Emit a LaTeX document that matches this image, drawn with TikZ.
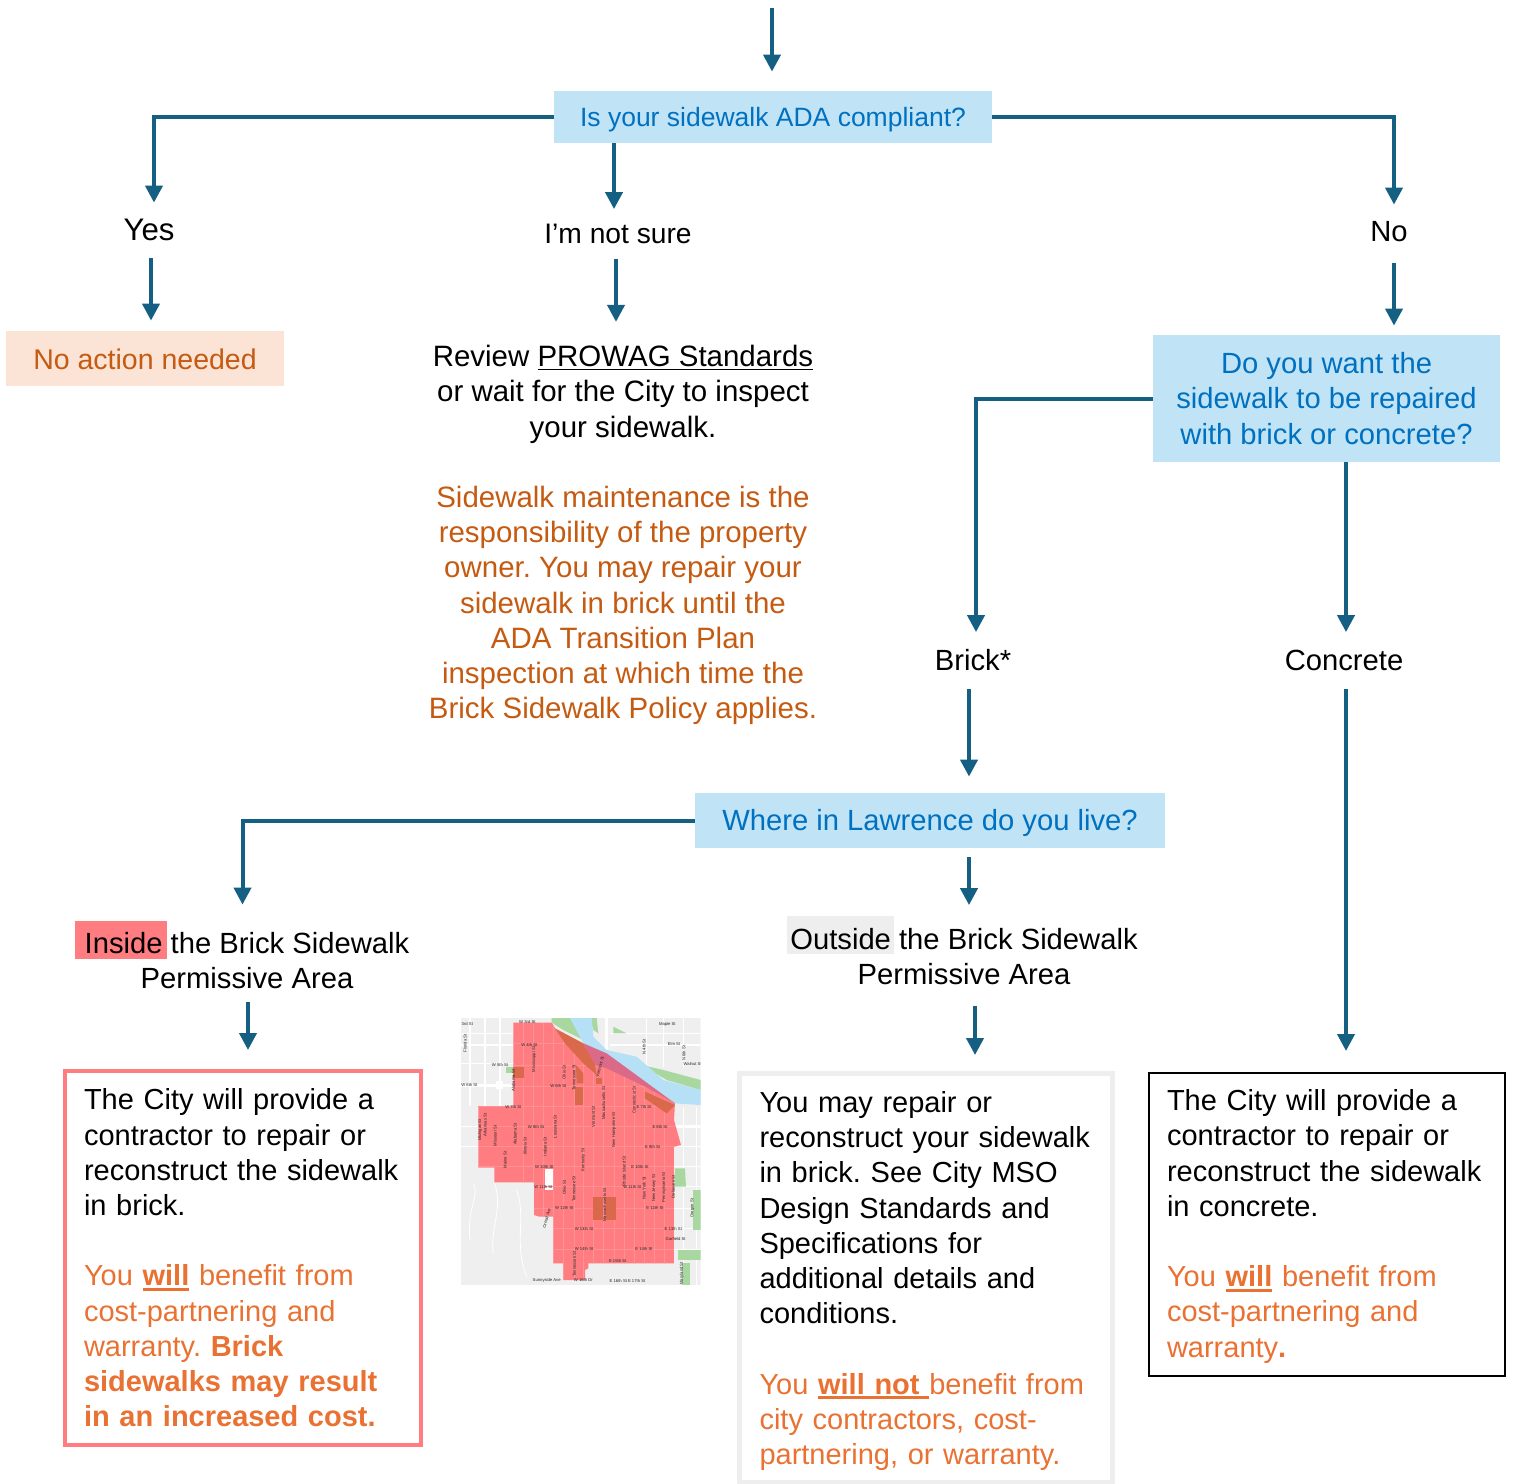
\documentclass[tikz,border=0pt]{standalone}
\usepackage{fontspec}
\setmainfont{Liberation Sans}
\usepackage{xcolor}
\usetikzlibrary{arrows.meta}
\definecolor{flowblue}{HTML}{156082}
\definecolor{askfill}{HTML}{C0E4F5}
\definecolor{asktext}{HTML}{0070C0}
\definecolor{nofill}{HTML}{FBE3D6}
\definecolor{rusttext}{HTML}{C55A11}
\definecolor{warmtext}{HTML}{E97132}
\definecolor{zonered}{HTML}{FF7C80}
\definecolor{offgrey}{HTML}{EEEEEE}
\definecolor{mapgrey}{HTML}{EFEFEF}
\definecolor{mapriver}{HTML}{B5E0F5}
\definecolor{mappark}{HTML}{A8D8A0}
\definecolor{mapdark}{HTML}{D9694A}
\definecolor{mappurple}{HTML}{DB6A88}
\frenchspacing
\newcommand{\bodyfont}{\fontsize{14.6}{17.6}\selectfont}
\newcommand{\hilite}[4]{\rlap{\kern#2\textcolor{#1}{\rule[-2.5pt]{#3}{19pt}}}#4}
\newcommand{\boldul}[1]{\sbox0{\textbf{#1}}\rlap{\rule[-2.6pt]{\wd0}{1.4pt}}\box0\relax}
\tikzset{
	flow/.style={draw=flowblue,line width=2pt,shorten >=-0.5pt,-{Triangle[width=8.5pt,length=8.5pt]}},
	askbox/.style={fill=askfill,text=asktext,font=\bodyfont,align=center,inner sep=0pt},
	answer/.style={font=\bodyfont,align=center,inner sep=0pt},
	resultbox/.style={draw,font=\fontsize{14.5}{17.6}\selectfont,align=left},
	mapstreet/.style={draw=white,line width=0.8pt},
	maplabel/.style={font=\fontsize{2.1}{2.2}\selectfont,text=black!85,inner sep=0pt}
}
\begin{document}
\begin{tikzpicture}[x=0.5pt,y=-0.5pt]
	\useasboundingbox (0,0) rectangle (1513,1483);
	\coordinate (start) at (772,8);
	\node[askbox,minimum width=219pt,minimum height=26pt,text height=12.6pt,font=\fontsize{13.25}{16}\selectfont] (adaq) at (773,117) {Is your sidewalk ADA compliant?};
	\node[answer,minimum height=28pt,font=\fontsize{15.6}{17.6}\selectfont] (yes) at (149,230) {Yes};
	\node[answer,minimum height=25pt,font=\fontsize{14.1}{17.6}\selectfont] (notsure) at (618,233.5) {I’m not sure};
	\node[answer,minimum height=28pt] (no) at (1389,232) {No};
	\node[inner sep=0pt,fill=nofill,text=rusttext,font=\fontsize{14.25}{17.6}\selectfont,text height=11.2pt,minimum width=139pt,minimum height=27.5pt] (noaction) at (145,358.5) {No action needed};
	\node[answer,font=\fontsize{14.73}{17.6}\selectfont] (review) at (623,535) {Review \underline{PROWAG Standards}\\or wait for the City to inspect\\your sidewalk.\\[17.6pt]\color{rusttext}Sidewalk maintenance is the\\\color{rusttext}responsibility of the property\\\color{rusttext}owner. You may repair your\\\color{rusttext}sidewalk in brick until the\\\color{rusttext}ADA Transition Plan\\\color{rusttext}inspection at which time the\\\color{rusttext}Brick Sidewalk Policy applies.};
	\node[askbox,minimum width=173.5pt,minimum height=63.5pt] (wantq) at (1326.5,398.5) {Do you want the\\sidewalk to be repaired\\with brick or concrete?};
	\node[answer,minimum height=28.5pt] (brick) at (973,660) {Brick*};
	\node[answer,minimum height=28.5pt] (concrete) at (1344,660) {Concrete};
	\node[askbox,minimum width=235pt,minimum height=27.5pt,text height=13pt] (whereq) at (930,820.5) {Where in Lawrence do you live?};
	\node[answer,minimum height=47pt] (inside) at (247,955) {\hilite{zonered}{-5pt}{46pt}{Inside} the Brick Sidewalk\\Permissive Area};
	\node[answer,minimum height=55pt] (outside) at (964,950.5) {\hilite{offgrey}{-1.5pt}{53.5pt}{Outside} the Brick Sidewalk\\Permissive Area};
	\node[resultbox,draw=zonered,line width=2pt,text width=159pt,inner xsep=9.5pt,minimum height=187pt] (insidebox) at (243,1258) {The City will provide a\\contractor to repair or\\reconstruct the sidewalk\\in brick.\\[17.6pt]\color{warmtext}You \boldul{will} benefit from\\\color{warmtext}cost-partnering and\\\color{warmtext}warranty. \textbf{Brick}\\\color{warmtext}\textbf{sidewalks may result}\\\color{warmtext}\textbf{in an increased cost.}};
	\node[resultbox,draw=offgrey,line width=2.5pt,text width=166.5pt,inner xsep=10pt,minimum height=204.5pt] (outsidebox) at (926,1278) {\rule{0pt}{13.4pt}You may repair or\\reconstruct your sidewalk\\in brick. See City MSO\\Design Standards and\\Specifications for\\additional details and\\conditions.\\[17.6pt]\color{warmtext}You \boldul{will not }benefit from\\\color{warmtext}city contractors, cost-\\\color{warmtext}partnering, or warranty.};
	\node[resultbox,draw=black,line width=1pt,text width=160pt,inner xsep=9pt,minimum height=151.5pt] (concretebox) at (1327,1224.5) {\rule{0pt}{12.4pt}The City will provide a\\contractor to repair or\\reconstruct the sidewalk\\in concrete.\\[17.6pt]\color{warmtext}You \boldul{will} benefit from\\\color{warmtext}cost-partnering and\\\color{warmtext}warranty\textbf{.}};
	\draw[flow,shorten >=9.5pt] (start) -- (start |- adaq.north);
	\draw[flow] (adaq.west) -| ([xshift=2.5pt]yes.north);
	\draw[flow] (adaq.east) -| ([xshift=2.5pt]no.north);
	\draw[flow] ([xshift=-2pt]notsure.north |- adaq.south) -- ([xshift=-2pt]notsure.north);
	\draw[flow,shorten >=5pt] ([xshift=1pt]yes.south) -- ([xshift=1pt]yes.south |- noaction.north);
	\draw[flow,shorten >=11.5pt] ([xshift=-1pt]notsure.south) -- ([xshift=-1pt]notsure.south |- review.north);
	\draw[flow,shorten >=4.5pt,shorten <=1.5pt] ([xshift=2.5pt]no.south) -- ([xshift=2.5pt]no.south |- wantq.north);
	\draw[flow] (wantq.west) -| ([xshift=1.5pt]brick.north);
	\draw[flow] ([xshift=1pt]concrete.north |- wantq.south) -- ([xshift=1pt]concrete.north);
	\draw[flow,shorten >=8pt] ([xshift=-2pt]brick.south) -- ([xshift=-2pt]brick.south |- whereq.north);
	\draw[flow,shorten >=10.5pt] ([xshift=1pt]concrete.south) -- ([xshift=1pt]concrete.south |- concretebox.north);
	\draw[flow,shorten >=1.5pt] (whereq.west) -| ([xshift=-2.25pt]inside.north);
	\draw[flow,shorten <=4.5pt,shorten >=-5pt] ([xshift=2.5pt]outside.north |- whereq.south) -- ([xshift=2.5pt]outside.north);
	\draw[flow,shorten >=9.5pt] ([xshift=0.5pt]inside.south) -- ([xshift=0.5pt]inside.south |- insidebox.north);
	\draw[flow,shorten >=8pt] ([xshift=5.5pt]outside.south) -- ([xshift=5.5pt]outside.south |- outsidebox.north);
	\begin{scope}[shift={(450,1010)},x=0.5pt/3,y=-0.5pt/3]
		\clip (33,24) rectangle (752,826);
		\fill[mapgrey] (33,24) rectangle (752,826);
		\foreach \ya in {70,105,160}
			\draw[mapstreet] (33,\ya) -- (190,\ya);
		\foreach \ya in {350,410}
			\draw[mapstreet] (33,\ya) -- (85,\ya);
		\foreach \ya in {70,105}
			\draw[mapstreet] (480,\ya) -- (752,\ya);
		\foreach \ya in {410,470,530,595,655,718}
			\draw[mapstreet] (672,\ya) -- (752,\ya);
		\foreach \xa in {60,105,150}
			\draw[mapstreet] (\xa,24) -- (\xa,288);
		\foreach \xa in {590,640,700}
			\draw[mapstreet] (\xa,24) -- (\xa,170);
		\foreach \xa in {700,740}
			\draw[mapstreet] (\xa,290) -- (\xa,826);
		\draw[mapstreet,line width=1.4pt] (33,226) -- (190,226);
		\draw[mapstreet,line width=1.4pt] (672,350) -- (752,350);
		\draw[mapstreet,line width=1.2pt] (470,24) -- (470,125);
		\draw[mapstreet,line width=0.4pt] (70,520) .. controls (90,560) and (50,590) .. (60,690);
		\draw[mapstreet,line width=0.4pt] (133,517) .. controls (160,600) and (120,650) .. (130,730);
		\draw[mapstreet,line width=0.4pt] (200,540) .. controls (230,620) and (190,700) .. (230,800);
		\fill[mappark] (305,24) -- (360,24) -- (400,90) -- (340,60) -- (305,38) -- cycle;
		\fill[mappark] (420,24) -- (440,24) -- (445,70) -- (430,60) -- cycle;
		\fill[mappark] (490,50) -- (530,70) -- (490,70) -- cycle;
		\fill[mappark] (575,165) -- (640,180) -- (752,210) -- (752,240) -- (650,210) -- cycle;
		\fill[mappark] (168,170) -- (190,170) -- (190,190) -- (168,190) -- cycle;
		\fill[mappark] (675,475) -- (705,475) -- (708,530) -- (675,530) -- cycle;
		\fill[mappark] (730,540) -- (752,540) -- (752,660) -- (730,660) -- cycle;
		\fill[mappark] (685,720) -- (752,720) -- (752,750) -- (685,750) -- cycle;
		\fill[mappark] (695,760) -- (720,760) -- (720,826) -- (695,826) -- cycle;
		\fill[mapriver] (360,24) -- (425,24) -- (430,80) -- (470,120) -- (560,140) -- (640,210) -- (752,240) -- (752,285) -- (675,280) -- (590,235) -- (470,170) -- (400,100) -- cycle;
		\fill[zonered] (190,38) -- (305,38) -- (320,62) -- (470,160) -- (675,280) -- (672,330) -- (693,405) -- (672,410) -- (672,760) -- (415,760) -- (415,775) -- (405,780) -- (405,810) -- (340,810) -- (340,760) -- (310,760) -- (310,620) -- (268,620) -- (252,615) -- (252,517) -- (133,517) -- (133,473) -- (85,473) -- (85,288) -- (190,288) -- cycle;
		\fill[white!85!mapgrey] (285,478) rectangle (312,540);
		\begin{scope}
			\clip (190,38) -- (305,38) -- (320,62) -- (470,160) -- (675,280) -- (672,330) -- (693,405) -- (672,410) -- (672,760) -- (415,760) -- (415,775) -- (405,780) -- (405,810) -- (340,810) -- (340,760) -- (310,760) -- (310,620) -- (268,620) -- (252,615) -- (252,517) -- (133,517) -- (133,473) -- (85,473) -- (85,288) -- (190,288) -- cycle;
			\foreach \ya in {100,165,228,288,350,410,470,530,595,655,718}
				\draw[white!15!zonered,line width=0.4pt] (85,\ya) -- (693,\ya);
			\foreach \xa in {220,250,280,310,340,372,400,430,461,492,522,552,582,612,642}
				\draw[white!15!zonered,line width=0.4pt] (\xa,38) -- (\xa,810);
		\end{scope}
		\fill[mappurple] (400,100) -- (470,130) -- (675,280) -- (590,232) -- (470,175) -- (435,165) -- cycle;
		\fill[mapdark] (315,55) -- (400,100) -- (435,165) -- (440,195) -- (400,160) -- (345,100) -- cycle;
		\fill[mapdark] (378,165) -- (400,190) -- (400,220) -- (380,220) -- cycle;
		\fill[mapdark] (376,232) rectangle (398,285);
		\fill[mapdark] (585,245) -- (675,285) -- (650,310) -- (585,265) -- cycle;
		\fill[mapdark] (190,170) rectangle (222,203);
		\fill[mapdark] (428,560) rectangle (459,630);
		\fill[mapdark] (468,560) rectangle (498,630);
		\fill[mapdark] (438,205) rectangle (455,222);
		\fill[white] (138,212) rectangle (158,238);
		\foreach \xl/\yl/\rl/\tl in {
			52/42/0/3rd St,652/44/0/Maple St,672/102/0/Elm St,232/37/0/W 3rd St,
			45/100/90/Florida St,238/104/0/W 4th St,252/148/90/Mississippi St,150/165/0/W 5th St,
			190/212/90/Alabama St,342/187/90/Ohio St,372/203/90/Tennessee St,450/170/75/Vermont St,
			58/226/0/W 6th St,325/228/0/W 6th St,461/280/90/Massachusetts St,552/270/90/Connecticut St,
			582/290/0/E 7th St,190/290/0/W 7th St,582/110/90/N 4th St,702/130/90/N 6th St,
			728/162/0/Walnut St,258/350/0/W 8th St,630/350/0/E 8th St,430/320/90/Vermont St,
			492/360/90/New Hampshire St,315/350/90/Louisiana St,90/360/90/Michigan St,105/345/90/Arkansas St,
			135/378/90/Missouri St,195/372/90/Alabama St,225/408/90/Illinois St,285/410/90/Indiana St,
			165/450/90/Maine St,400/450/90/Kentucky St,608/411/0/E 9th St,283/472/0/W 10th St,
			570/472/0/E 10th St,522/484/90/Rhode Island St,280/530/0/W 11th St,547/530/0/W 11th St,
			343/533/90/Ohio St,372/537/90/Tennessee St,582/535/90/New York St,612/535/90/New Jersey St,
			642/532/90/Pennsylvania St,670/530/90/Delaware St,464/585/90/Massachusetts St,343/595/0/W 12th St,
			615/595/0/E 12th St,290/625/75/Oread Ave,402/658/0/W 13th St,670/658/0/E 13th St,
			677/688/0/Garfield St,402/718/0/W 14th St,582/718/0/E 14th St,373/762/90/Tennessee St,
			503/754/0/E 15th St,727/595/90/Oregon St,695/790/90/Maryland St,290/812/0/Sunnyside Ave,
			400/810/0/W 16th Dr,505/814/0/E 16th St,560/812/0/E 17th St}
			\node[maplabel,rotate=\rl] at (\xl,\yl) {\tl};
	\end{scope}
\end{tikzpicture}
\end{document}
